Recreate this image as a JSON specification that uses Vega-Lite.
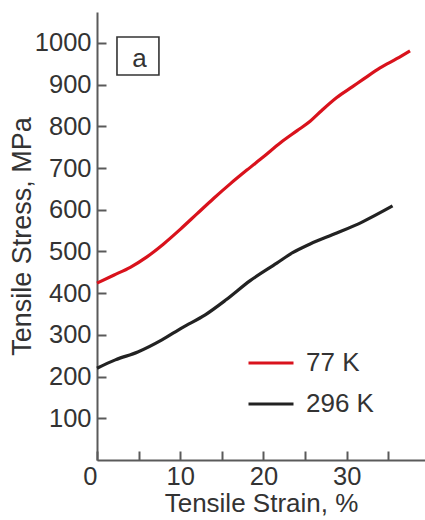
{
  "$schema": "https://vega.github.io/schema/vega-lite/v6.json",
  "width": 328,
  "height": 448,
  "autosize": {"type": "none"},
  "padding": {"left": 97, "top": 12, "right": 0, "bottom": 60},
  "background": "white",
  "config": {
    "view": {"stroke": null},
    "font": "Liberation Sans",
    "axis": {
      "grid": false,
      "domainColor": "#5a5a5a",
      "domainWidth": 2,
      "tickColor": "#5a5a5a",
      "tickWidth": 2,
      "tickSize": -9,
      "labelColor": "#333333",
      "titleColor": "#333333",
      "labelFontSize": 25.5,
      "titleFontSize": 26,
      "titleFontWeight": "normal"
    },
    "legend": {
      "labelFontSize": 26,
      "labelColor": "#333333",
      "symbolType": "stroke",
      "symbolSize": 2025,
      "symbolStrokeWidth": 3,
      "labelOffset": 11,
      "padding": 0,
      "rowPadding": 4
    }
  },
  "layer": [
    {
      "data": {
        "values": [
          {"strain": 0, "stress": 424, "temp": "77 K"},
          {"strain": 2, "stress": 443, "temp": "77 K"},
          {"strain": 4, "stress": 462, "temp": "77 K"},
          {"strain": 6, "stress": 487, "temp": "77 K"},
          {"strain": 8, "stress": 518, "temp": "77 K"},
          {"strain": 10, "stress": 553, "temp": "77 K"},
          {"strain": 12, "stress": 590, "temp": "77 K"},
          {"strain": 14, "stress": 627, "temp": "77 K"},
          {"strain": 16, "stress": 662, "temp": "77 K"},
          {"strain": 18, "stress": 695, "temp": "77 K"},
          {"strain": 20, "stress": 727, "temp": "77 K"},
          {"strain": 22, "stress": 760, "temp": "77 K"},
          {"strain": 24, "stress": 789, "temp": "77 K"},
          {"strain": 25.6, "stress": 812, "temp": "77 K"},
          {"strain": 27, "stress": 838, "temp": "77 K"},
          {"strain": 28.8, "stress": 869, "temp": "77 K"},
          {"strain": 30.7, "stress": 895, "temp": "77 K"},
          {"strain": 32, "stress": 913, "temp": "77 K"},
          {"strain": 34, "stress": 940, "temp": "77 K"},
          {"strain": 36, "stress": 962, "temp": "77 K"},
          {"strain": 37.6, "stress": 981, "temp": "77 K"},
          {"strain": 0, "stress": 220, "temp": "296 K"},
          {"strain": 2.2, "stress": 240, "temp": "296 K"},
          {"strain": 4.9, "stress": 259, "temp": "296 K"},
          {"strain": 7.8, "stress": 288, "temp": "296 K"},
          {"strain": 10.2, "stress": 317, "temp": "296 K"},
          {"strain": 13, "stress": 348, "temp": "296 K"},
          {"strain": 15.5, "stress": 384, "temp": "296 K"},
          {"strain": 18.4, "stress": 430, "temp": "296 K"},
          {"strain": 21.6, "stress": 472, "temp": "296 K"},
          {"strain": 23.5, "stress": 497, "temp": "296 K"},
          {"strain": 25.6, "stress": 518, "temp": "296 K"},
          {"strain": 28.8, "stress": 544, "temp": "296 K"},
          {"strain": 31.9, "stress": 571, "temp": "296 K"},
          {"strain": 35.5, "stress": 609, "temp": "296 K"}
        ]
      },
      "mark": {"type": "line", "strokeWidth": 3.2, "interpolate": "monotone"},
      "encoding": {
        "x": {
          "field": "strain",
          "type": "quantitative",
          "title": "Tensile Strain, %",
          "scale": {"domain": [0, 39.4], "nice": false, "zero": false},
          "axis": {
            "values": [0, 5, 10, 15, 20, 25, 30, 35],
            "labelExpr": "datum.value % 10 === 0 ? datum.label : ''",
            "labelPadding": 13,
            "labelAlign": {"condition": {"test": "datum.value === 0", "value": "right"}, "value": "center"},
            "labelFlush": false,
            "titlePadding": 1
          }
        },
        "y": {
          "field": "stress",
          "type": "quantitative",
          "title": "Tensile Stress, MPa",
          "scale": {"domain": [0, 1074], "nice": false},
          "axis": {
            "values": [100, 200, 300, 400, 500, 600, 700, 800, 900, 1000],
            "format": "d",
            "labelPadding": 15,
            "titlePadding": -2,
            "titleFontSize": 27
          }
        },
        "color": {
          "field": "temp",
          "type": "nominal",
          "title": null,
          "scale": {"domain": ["77 K", "296 K"], "range": ["#d9121c", "#222222"]},
          "legend": {"orient": "none", "legendX": 150, "legendY": 327}
        }
      }
    },
    {
      "data": {"values": [{"x1": 2.4, "x2": 7.44, "y1": 923, "y2": 1014}]},
      "mark": {"type": "rect", "fill": null, "stroke": "#333333", "strokeWidth": 1.6},
      "encoding": {
        "x": {"field": "x1", "type": "quantitative"},
        "x2": {"field": "x2"},
        "y": {"field": "y1", "type": "quantitative"},
        "y2": {"field": "y2"}
      }
    },
    {
      "data": {"values": [{"x": 5.1, "y": 942, "label": "a"}]},
      "mark": {"type": "text", "fontSize": 26, "color": "#333333", "baseline": "alphabetic", "align": "center"},
      "encoding": {
        "x": {"field": "x", "type": "quantitative"},
        "y": {"field": "y", "type": "quantitative"},
        "text": {"field": "label"}
      }
    }
  ]
}
